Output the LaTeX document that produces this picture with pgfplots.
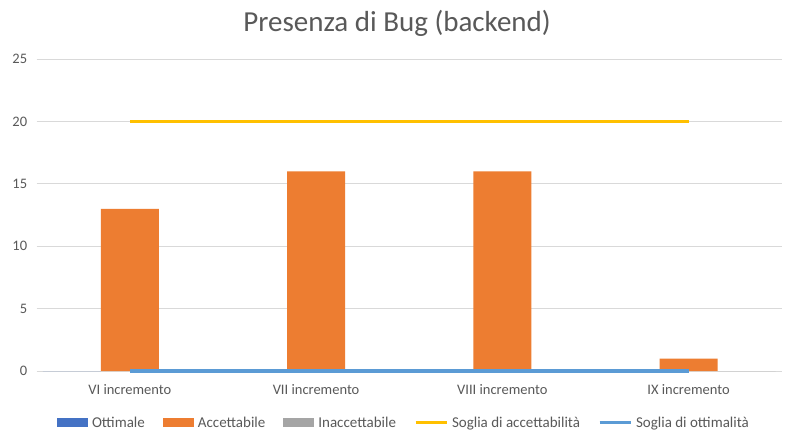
\documentclass[border=0pt]{standalone}
\usepackage{pgfplots}
\pgfplotsset{compat=1.18}
\usepackage{fontspec}
\setmainfont{Carlito}
\definecolor{cOtt}{HTML}{4472C4}
\definecolor{cAcc}{HTML}{ED7D31}
\definecolor{cIna}{HTML}{A5A5A5}
\definecolor{cSA}{HTML}{FFC000}
\definecolor{cSO}{HTML}{5B9BD5}
\definecolor{txt}{HTML}{595959}
\definecolor{gridc}{HTML}{D9D9D9}
\begin{document}
\begin{tikzpicture}
\path[fill=white] (0bp,0bp) rectangle (787bp,437bp);
\node[text=txt, font=\fontsize{29bp}{34bp}\selectfont, anchor=base, inner sep=0pt] at (397bp,405bp) {Presenza di Bug (backend)};
\begin{axis}[
  at={(36.7bp,66bp)}, anchor=south west,
  scale only axis, width=745bp, height=312bp,
  xmin=-0.5, xmax=3.5, ymin=0, ymax=25,
  ytick={0,5,10,15,20,25},
  xtick={0,1,2,3},
  xticklabels={VI incremento, VII incremento, VIII incremento, IX incremento},
  ymajorgrids, grid style={color=gridc, line width=0.75bp},
  axis line style={draw=none},
  major tick length=0pt,
  tick label style={font=\fontsize{14.5bp}{17bp}\selectfont, text=txt},
  yticklabel style={xshift=-6bp},
  xticklabel style={yshift=-10bp},
  /pgf/number format/assume math mode=true,
  clip=false,
  legend columns=5,
  legend style={draw=none, fill=none, at={(axis description cs:0.493,-0.167)}, anchor=center,
    font=\fontsize{15bp}{17bp}\selectfont, text=txt,
    /tikz/every even column/.append style={column sep=16bp}},
  legend cell align=left,
]
\addplot[ybar, bar width=58bp, bar shift=-58bp, fill=cOtt, draw=none,
  legend image code/.code={\fill[cOtt] (0bp,-4bp) rectangle (31bp,5bp); \path (33bp,0bp);}]
  coordinates {(0,0)(1,0)(2,0)(3,0)};
\addlegendentry{Ottimale}
\addplot[ybar, bar width=58bp, bar shift=0bp, fill=cAcc, draw=none,
  legend image code/.code={\fill[cAcc] (0bp,-4bp) rectangle (31bp,5bp); \path (33bp,0bp);}]
  coordinates {(0,13)(1,16)(2,16)(3,1)};
\addlegendentry{Accettabile}
\addplot[ybar, bar width=58bp, bar shift=58bp, fill=cIna, draw=none,
  legend image code/.code={\fill[cIna] (0bp,-4bp) rectangle (31bp,5bp); \path (33bp,0bp);}]
  coordinates {(0,0)(1,0)(2,0)(3,0)};
\addlegendentry{Inaccettabile}
\addplot[sharp plot, color=cSA, line width=3bp, mark=none,
  legend image code/.code={\draw[cSA, line width=3bp] (0bp,0.5bp) -- (31bp,0.5bp); \path (33bp,0bp);}]
  coordinates {(0,20)(1,20)(2,20)(3,20)};
\addlegendentry{Soglia di accettabilità}
\addplot[sharp plot, color=cSO, line width=3bp, mark=none,
  legend image code/.code={\draw[cSO, line width=3bp] (0bp,0.5bp) -- (31bp,0.5bp); \path (33bp,0bp);}]
  coordinates {(0,0)(1,0)(2,0)(3,0)};
\addlegendentry{Soglia di ottimalità}
\end{axis}
\end{tikzpicture}
\end{document}
